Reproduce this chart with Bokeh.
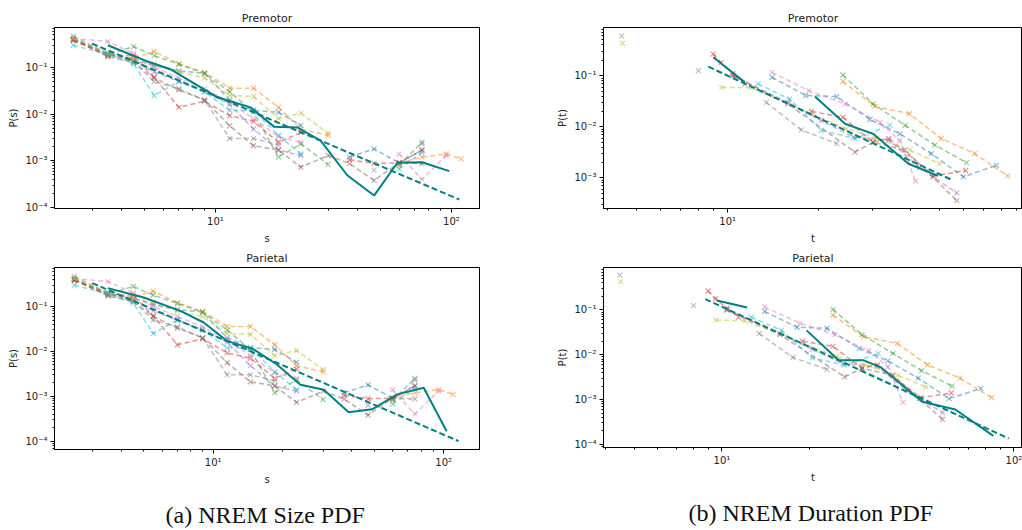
from bokeh.plotting import figure
from bokeh.layouts import column, row
from bokeh.models import Range1d, FixedTicker, CustomJSTickFormatter, Title
from bokeh.embed import file_html
from bokeh.resources import INLINE

nan = float("nan")

# ---------------- Size PDF (shared by both size panels) ----------------
size_s = [2.5, 3.5, 4.5, 5.5, 7, 9, 11.5, 14.5, 18.5, 23, 30, 37, 47, 60, 75, 95, 110]
size_blue = [0.40, 0.20, 0.15, 0.11, 0.085, 0.075, 0.02, 0.012, 0.011, 0.0057, nan, 0.0012, 0.0018, 0.0009, 0.0017, nan, nan]
size_orange = [0.38, 0.19, 0.16, 0.22, 0.12, 0.078, 0.036, 0.036, 0.014, 0.0048, 0.0035, nan, nan, 0.0009, 0.0012, 0.0014, 0.0011]
size_green = [0.42, 0.19, 0.28, 0.18, 0.117, 0.074, 0.03, 0.011, 0.0012, 0.0023, 0.00084, nan, nan, 0.0008, 0.0025, nan, nan]
size_red = [0.38, 0.18, 0.18, 0.061, 0.014, 0.019, 0.0093, 0.007, 0.0025, 0.004, nan, 0.00105, 0.00088, 0.0009, 0.0017, nan, nan]
size_purple = [0.40, 0.19, 0.14, 0.08, 0.05, 0.03, 0.016, 0.0048, 0.0017, 0.0013, nan, nan, 0.00063, nan, 0.0023, nan, nan]
size_brown = [0.40, 0.17, 0.13, 0.06, 0.033, 0.02, 0.0056, 0.0021, 0.0017, 0.00073, 0.0013, 0.00087, 0.00038, 0.0009, 0.00087, nan, nan]
size_pink = [0.42, 0.36, 0.2, 0.1, 0.06, 0.035, 0.018, 0.008, 0.0033, 0.0025, nan, nan, nan, 0.0014, 0.0004, 0.0013, nan]
size_gray = [0.47, 0.2, 0.13, 0.05, 0.035, 0.02, 0.003, 0.003, 0.0022, nan, nan, nan, nan, nan, nan, nan, nan]
size_olive = [0.42, 0.2, 0.15, 0.12, 0.08, 0.06, 0.025, 0.024, 0.008, 0.0105, 0.0039, nan, nan, 0.0008, nan, nan, nan]
size_cyan = [0.30, 0.19, 0.12, 0.025, 0.05, 0.03, 0.012, 0.012, 0.0035, 0.0014, nan, nan, nan, 0.00067, 0.0015, nan, nan]

prem_size_mean_s = [3.5, 5.05, 6.44, 10.2, 14.1, 17.7, 22.2, 27.9, 36.2, 47, 59, 75, 98]
prem_size_mean_p = [0.3, 0.14, 0.092, 0.023, 0.014, 0.0054, 0.0052, 0.0027, 0.00049, 0.00018, 0.00091, 0.00093, 0.0006]
prem_size_fit_s = [3.0, 108]
prem_size_fit_p = [0.325, 0.000148]

par_size_mean_s = [3.49, 5.0, 7.2, 9.1, 11.5, 15, 18.9, 23.9, 30.2, 38.7, 48.9, 62.8, 81.9, 103]
par_size_mean_p = [0.257, 0.159, 0.08, 0.044, 0.0171, 0.0111, 0.0051, 0.0018, 0.0014, 0.00044, 0.00051, 0.0011, 0.00155, 0.000166]
par_size_fit_s = [2.99, 116]
par_size_fit_p = [0.332, 0.0001]

# ---------------- Duration PDF (shared by both duration panels) ----------------
dur_blue_t = [14, 18.1, 22.9, 29.5, 37, 47, 60, 77]
dur_blue_p = [0.093, 0.041, 0.039, 0.0139, 0.0073, 0.003, 0.00105, 0.00177]
dur_orange_t = [24, 30.6, 39.8, 50.7, 65.3, 84]
dur_orange_p = [0.077, 0.025, 0.018, 0.0059, 0.003, 0.0011]
dur_green_t = [24, 30.2, 38.5, 48.3, 61.4]
dur_green_p = [0.103, 0.028, 0.0107, 0.0044, 0.002]
dur_red_t = [8.96, 9.5, 10.4, 11.4, nan, 18.9, 24, 30.2, 34, 48, 61]
dur_red_p = [0.265, 0.18, 0.11, 0.069, nan, 0.02, 0.0154, 0.005, 0.0059, 0.0011, 0.0014]
dur_purple_t = [10.4, 15.8, 20.4, 26, 34, 43, 57]
dur_purple_p = [0.1, 0.03, 0.0132, 0.0063, 0.0055, 0.0016, 0.00051]
dur_brown_t = [10.4, 15.8, 26.3, 30.2, 38.5, 47.5, 57]
dur_brown_p = [0.1, 0.028, 0.0032, 0.005, 0.0035, 0.00105, 0.00036]
dur_pink_t = [14, 18.5, 24.4, 31.8, 37, 41.7]
dur_pink_p = [0.116, 0.051, 0.028, 0.0123, 0.0054, 0.00087]
dur_gray_t = [4.47, nan, 8.0, nan, 13.4, 17.5, 22.9]
dur_gray_p = [0.6, nan, 0.125, nan, 0.030, 0.0087, 0.0047]
dur_olive_t = [4.5, nan, 9.55, 12, 24.7, 31, 40, 50]
dur_olive_p = [0.43, nan, 0.059, 0.058, 0.0091, 0.006, 0.0035, 0.0019]
dur_cyan_t = [12.6, 16, 20.4, 26.3, 34.3]
dur_cyan_p = [0.069, 0.035, 0.0085, 0.0059, 0.0107]

prem_dur_mean_t = [8.96, 11.4, nan, 19.4, 24.4, 30.2, 39.5, 49.5]
prem_dur_mean_p = [0.229, 0.074, nan, 0.039, 0.0115, 0.0073, 0.0019, 0.0011]
prem_dur_fit_t = [8.63, 55.5]
prem_dur_fit_p = [0.15, 0.00089]

par_dur_mean_t = [9.6, 12.2, nan, 19.5, 25.1, 30.6, 34.9, 48.5, 63, 85]
par_dur_mean_p = [0.162, 0.114, nan, 0.035, 0.0075, 0.0075, 0.0053, 0.00089, 0.0006, 0.000155]
par_dur_fit_t = [8.77, 96]
par_dur_fit_p = [0.175, 0.000135]

TAB10 = ["#1f77b4", "#ff7f0e", "#2ca02c", "#d62728", "#9467bd",
         "#8c564b", "#e377c2", "#7f7f7f", "#bcbd22", "#17becf"]
TEAL = "#008080"

size_sets = [size_blue, size_orange, size_green, size_red, size_purple,
             size_brown, size_pink, size_gray, size_olive, size_cyan]
dur_sets = [(dur_blue_t, dur_blue_p), (dur_orange_t, dur_orange_p), (dur_green_t, dur_green_p),
            (dur_red_t, dur_red_p), (dur_purple_t, dur_purple_p), (dur_brown_t, dur_brown_p),
            (dur_pink_t, dur_pink_p), (dur_gray_t, dur_gray_p), (dur_olive_t, dur_olive_p),
            (dur_cyan_t, dur_cyan_p)]

SUP_JS = """
const sup = {'-':'\u207b','0':'\u2070','1':'\u00b9','2':'\u00b2','3':'\u00b3','4':'\u2074',
             '5':'\u2075','6':'\u2076','7':'\u2077','8':'\u2078','9':'\u2079'};
const e = Math.round(Math.log10(tick));
return '10' + String(e).split('').map(c => sup[c]).join('');
"""

major = [10.0 ** e for e in range(-6, 4)]
minor = [m * 10.0 ** e for e in range(-6, 4) for m in range(2, 10)]
FONT = "DejaVu Sans"
INK = "#000000"


def make_fig(title, xlabel, ylabel, xr, yr, fw, fh, bl, br, bt, bb):
    p = figure(x_axis_type="log", y_axis_type="log", x_range=Range1d(*xr), y_range=Range1d(*yr),
               frame_width=fw, frame_height=fh, min_border_left=bl, min_border_right=br,
               min_border_top=bt, min_border_bottom=bb, output_backend="svg",
               toolbar_location=None, background_fill_color="white", border_fill_color="white")
    p.title.text = title
    p.title.align = "center"
    p.title.text_font = FONT
    p.title.text_font_size = "11px"
    p.title.text_font_style = "normal"
    p.title.text_color = "#222222"
    p.title.standoff = 6
    p.outline_line_color = INK
    p.outline_line_width = 1
    p.outline_line_alpha = 1
    p.xgrid.visible = False
    p.ygrid.visible = False
    for ax, lab in ((p.xaxis[0], xlabel), (p.yaxis[0], ylabel)):
        ax.ticker = FixedTicker(ticks=major, minor_ticks=minor)
        ax.formatter = CustomJSTickFormatter(code=SUP_JS)
        ax.axis_label = lab
        ax.axis_label_text_font = FONT
        ax.axis_label_text_font_size = "10px"
        ax.axis_label_text_font_style = "normal"
        ax.axis_label_text_color = "#222222"
        ax.axis_label_standoff = 3
        ax.major_label_text_font = FONT
        ax.major_label_text_font_size = "10px"
        ax.major_label_text_color = "#222222"
        ax.major_label_standoff = 3
        ax.major_tick_out = 4
        ax.major_tick_in = 0
        ax.minor_tick_out = 2
        ax.minor_tick_in = 0
        ax.axis_line_color = INK
        ax.major_tick_line_color = INK
        ax.minor_tick_line_color = INK
    return p


def draw_size(p, mean_s, mean_p, fit_s, fit_p):
    for c, vals in zip(TAB10, size_sets):
        p.line(size_s, vals, line_color=c, line_alpha=0.5, line_width=1.5, line_dash="5 3")
        p.scatter(size_s, vals, marker="x", size=7, line_color=c, line_alpha=0.5, line_width=1.2)
    p.line(mean_s, mean_p, line_color=TEAL, line_width=2)
    p.line(fit_s, fit_p, line_color=TEAL, line_width=2, line_dash="6 3")


def draw_dur(p, mean_t, mean_p, fit_t, fit_p):
    for c, (t, v) in zip(TAB10, dur_sets):
        p.line(t, v, line_color=c, line_alpha=0.5, line_width=1.5, line_dash="5 3")
        p.scatter(t, v, marker="x", size=7, line_color=c, line_alpha=0.5, line_width=1.2)
    p.line(mean_t, mean_p, line_color=TEAL, line_width=2)
    p.line(fit_t, fit_p, line_color=TEAL, line_width=2, line_dash="6 3")


p1 = make_fig("Premotor", "s", "P(s)", (2.08, 131.5), (9.5e-5, 0.72), 425, 181, 54, 21, 27, 32)
draw_size(p1, prem_size_mean_s, prem_size_mean_p, prem_size_fit_s, prem_size_fit_p)

p2 = make_fig("Premotor", "t", "P(t)", (3.89, 94.0), (2.53e-4, 0.875), 419, 181, 103, 0, 27, 32)
draw_dur(p2, prem_dur_mean_t, prem_dur_mean_p, prem_dur_fit_t, prem_dur_fit_p)

p3 = make_fig("Parietal", "s", "P(s)", (2.05, 143.0), (6.5e-5, 0.74), 425, 182, 54, 21, 18, 83)
draw_size(p3, par_size_mean_s, par_size_mean_p, par_size_fit_s, par_size_fit_p)

p4 = make_fig("Parietal", "t", "P(t)", (3.93, 107.0), (8.5e-5, 0.887), 419, 180, 103, 0, 20, 83)
draw_dur(p4, par_dur_mean_t, par_dur_mean_p, par_dur_fit_t, par_dur_fit_p)

for p, cap, off in ((p3, "(a) NREM Size PDF", 111), (p4, "(b) NREM Duration PDF", 85)):
    t = Title(text=cap, align="left", text_font="Liberation Serif", text_font_size="24px",
              text_font_style="normal", text_color="#111111", standoff=25, offset=off)
    p.add_layout(t, "below")

layout = column(row(p1, p2), row(p3, p4))
open("out.html", "w").write(file_html(layout, INLINE))
